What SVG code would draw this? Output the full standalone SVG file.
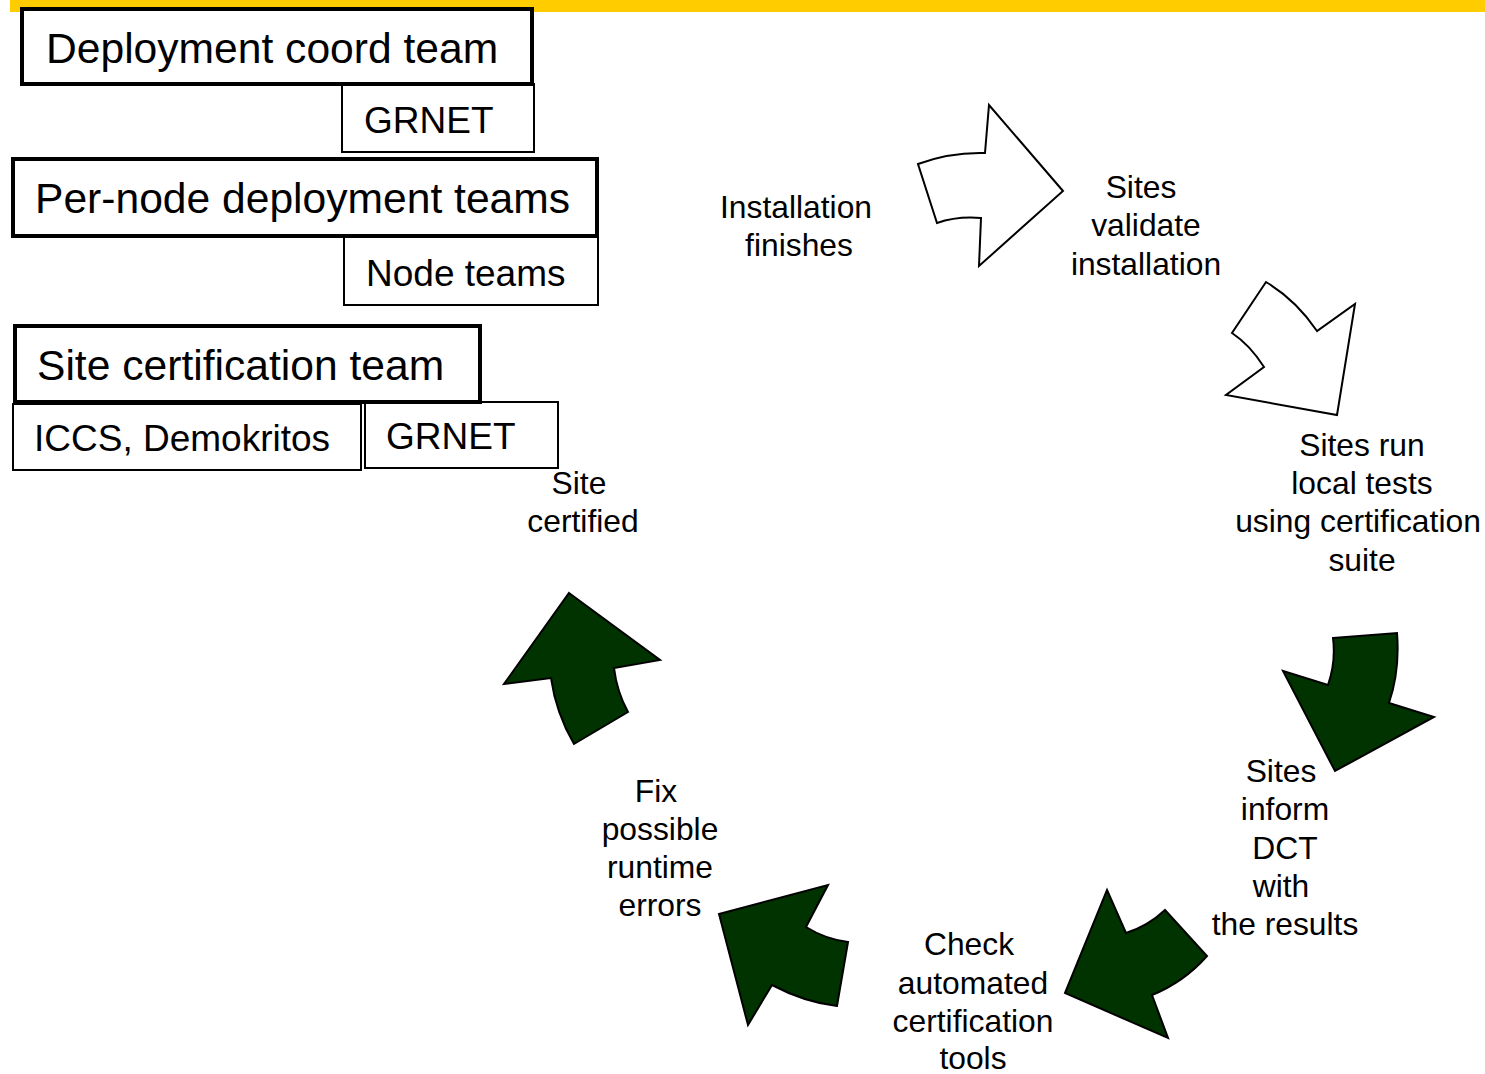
<svg xmlns="http://www.w3.org/2000/svg" width="1485" height="1074" viewBox="0 0 1485 1074">
<style>
text{font-family:"Liberation Sans",Arial,sans-serif;fill:#000}
.big{font-size:42.6px}
.mid{font-size:37px}
.lbl{font-size:31.8px;text-anchor:middle}
.thick{fill:#fff;stroke:#000;stroke-width:4}
.thin{fill:#fff;stroke:#000;stroke-width:2}
.wa{fill:#fff;stroke:#000;stroke-width:2;stroke-linejoin:miter}
.ga{fill:#003300;stroke:#000;stroke-width:2;stroke-linejoin:miter}
</style>
<rect x="0" y="0" width="1485" height="1074" fill="#fff"/>
<rect x="10" y="0" width="1475" height="12" fill="#FFCC00"/>

<g id="deploy-coord">
<rect class="thin" x="342" y="84" width="192" height="68"/>
<text class="mid" x="364" y="133">GRNET</text>
<rect class="thick" x="22" y="9" width="510" height="75"/>
<text class="big" x="46" y="63">Deployment coord team</text>
</g>
<g id="per-node">
<rect class="thin" x="344" y="237" width="254" height="68"/>
<text class="mid" x="366" y="286">Node teams</text>
<rect class="thick" x="13" y="159" width="584" height="77"/>
<text class="big" x="35" y="213">Per-node deployment teams</text>
</g>
<g id="site-cert">
<rect class="thin" x="13" y="404" width="348" height="66"/>
<text class="mid" x="34" y="451">ICCS, Demokritos</text>
<rect class="thin" x="365" y="402" width="193" height="66"/>
<text class="mid" x="386" y="449">GRNET</text>
<rect class="thick" x="15" y="326" width="465" height="76"/>
<text class="big" x="37" y="380">Site certification team</text>
</g>

<g id="connectors">
<path class="wa" d="M918,164 Q950,152 985,153 L989,105 L1063,191 L979,266 L981,218 Q957,216 937,223 Z"/>
<path class="wa" d="M1266,282 Q1296,300 1317,331 L1355,304 L1337,415 L1226,395 L1264,367 Q1250,345 1232,333 Z"/>
<path class="ga" d="M1333,638 L1397,633 Q1400,670 1389,703 L1434,717 L1335,771 L1283,671 L1328,685 Q1336,662 1333,638 Z"/>
<path class="ga" d="M1107,890 L1126,933 Q1148,926 1165,910 L1207,956 Q1184,982 1152,995 L1168,1038 L1065,993 Z"/>
<path class="ga" d="M719,914 L828,885 L806,927 Q825,939 848,942 L837,1006 Q804,1002 772,985 L748,1025 Z"/>
<path class="ga" d="M569,593 L660,660 L614,668 Q617,692 628,712 L574,744 Q556,713 551,678 L504,684 Z"/>
</g>

<g id="installation-finishes">
<text class="lbl" x="796" y="218">Installation</text>
<text class="lbl" x="799" y="256">finishes</text>
</g>
<g id="sites-validate">
<text class="lbl" x="1141" y="198">Sites</text>
<text class="lbl" x="1146" y="236">validate</text>
<text class="lbl" x="1146" y="275">installation</text>
</g>
<g id="sites-run">
<text class="lbl" x="1362" y="456">Sites run</text>
<text class="lbl" x="1362" y="494">local tests</text>
<text class="lbl" x="1358" y="532">using certification</text>
<text class="lbl" x="1362" y="571">suite</text>
</g>
<g id="sites-inform">
<text class="lbl" x="1281" y="782">Sites</text>
<text class="lbl" x="1285" y="820">inform</text>
<text class="lbl" x="1285" y="859">DCT</text>
<text class="lbl" x="1281" y="897">with</text>
<text class="lbl" x="1285" y="935">the results</text>
</g>
<g id="check-tools">
<text class="lbl" x="969" y="955">Check</text>
<text class="lbl" x="973" y="994">automated</text>
<text class="lbl" x="973" y="1032">certification</text>
<text class="lbl" x="973" y="1069">tools</text>
</g>
<g id="fix-errors">
<text class="lbl" x="656" y="802">Fix</text>
<text class="lbl" x="660" y="840">possible</text>
<text class="lbl" x="660" y="878">runtime</text>
<text class="lbl" x="660" y="916">errors</text>
</g>
<g id="site-certified">
<text class="lbl" x="579" y="494">Site</text>
<text class="lbl" x="583" y="532">certified</text>
</g>
</svg>
